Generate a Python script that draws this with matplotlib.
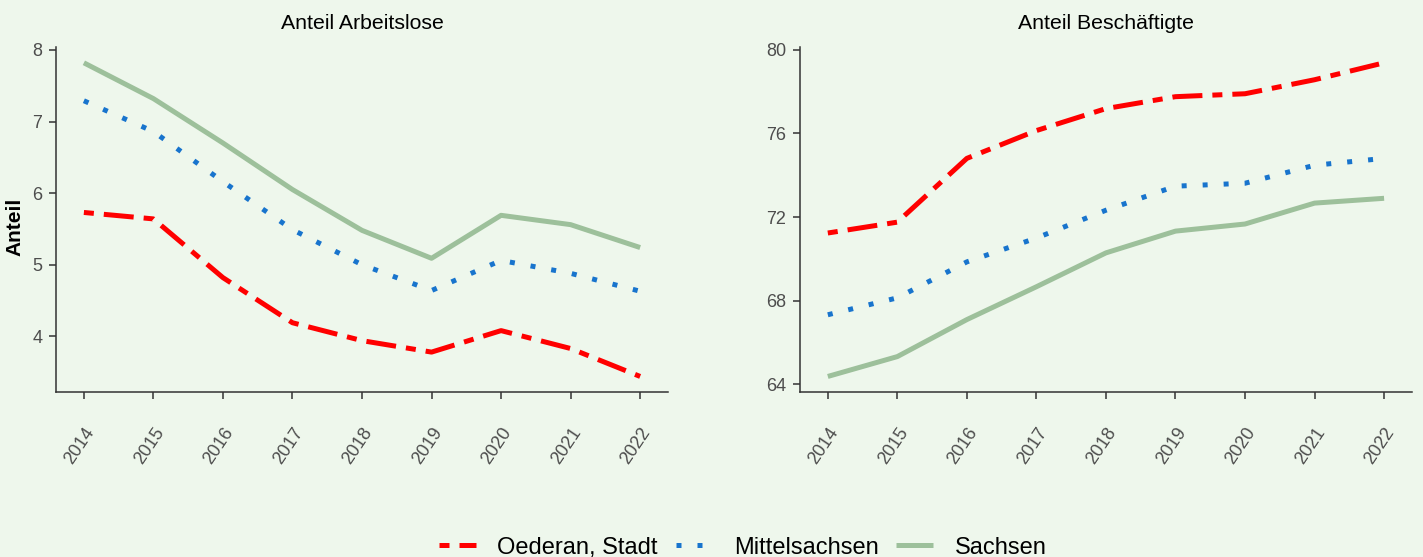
import numpy as np
import matplotlib
matplotlib.use("Agg")
import matplotlib.pyplot as plt
import matplotlib.transforms as mtransforms
from matplotlib.lines import Line2D

plt.rcParams['font.family'] = ['Liberation Sans', 'DejaVu Sans']

# data
years = [2014, 2015, 2016, 2017, 2018, 2019, 2020, 2021, 2022]
series = ["Oederan, Stadt", "Mittelsachsen", "Sachsen"]

arbeitslose_oederan = [5.73, 5.64, 4.82, 4.19, 3.94, 3.78, 4.08, 3.83, 3.44]
arbeitslose_mittel = [7.29, 6.86, 6.16, 5.49, 5.00, 4.64, 5.06, 4.88, 4.63]
arbeitslose_sachsen = [7.82, 7.32, 6.70, 6.05, 5.48, 5.09, 5.69, 5.56, 5.24]

besch_oederan = [71.24, 71.76, 74.81, 76.14, 77.19, 77.76, 77.90, 78.57, 79.38]
besch_mittel = [67.33, 68.14, 69.86, 71.00, 72.33, 73.48, 73.62, 74.48, 74.81]
besch_sachsen = [64.38, 65.33, 67.10, 68.67, 70.29, 71.33, 71.67, 72.67, 72.90]

bg = "#EEF7EC"
colors = ["#FF0000", "#1874CD", "#9DC09B"]
dashes = [(2, 2, 6, 2), (1, 3.2), None]   # twodash, dotted, solid
lw = 3.6

fig = plt.figure(figsize=(14.23, 5.57), dpi=100, facecolor=bg)
ax1 = fig.add_axes([0.0394, 0.296, 0.430, 0.6194])
ax2 = fig.add_axes([0.5622, 0.296, 0.430, 0.6194])

panels = [
    (ax1, "Anteil Arbeitslose", [arbeitslose_oederan, arbeitslose_mittel, arbeitslose_sachsen], [4, 5, 6, 7, 8]),
    (ax2, "Anteil Beschäftigte", [besch_oederan, besch_mittel, besch_sachsen], [64, 68, 72, 76, 80]),
]

shift = mtransforms.ScaledTranslation(-4 / 72, 0, fig.dpi_scale_trans)

for ax, title, vals, yt in panels:
    ax.set_facecolor(bg)
    for v, c, d in zip(vals, colors, dashes):
        line, = ax.plot(years, v, color=c, lw=lw, solid_capstyle="butt")
        if d is not None:
            line.set_dashes(d)
            line.set_dash_capstyle("butt")
    allv = np.concatenate([np.array(v) for v in vals])
    lo, hi = allv.min(), allv.max()
    pad = (hi - lo) * 0.05
    ax.set_ylim(lo - pad, hi + pad)
    ax.set_xlim(2013.6, 2022.4)
    ax.set_xticks(years)
    ax.set_xticklabels([str(y) for y in years], rotation=56, ha="right", va="top",
                       rotation_mode="anchor", color="#4D4D4D", fontsize=13)
    for lab in ax.get_xticklabels():
        lab.set_transform(lab.get_transform() + shift)
    ax.set_yticks(yt)
    ax.set_yticklabels([str(t) for t in yt], color="#4D4D4D", fontsize=13)
    ax.tick_params(axis="both", length=5, width=1.1, color="#333333")
    ax.tick_params(axis="x", pad=18.5)
    ax.tick_params(axis="y", pad=5)
    ax.set_title(title, fontsize=15.3, pad=13)
    for s in ["top", "right"]:
        ax.spines[s].set_visible(False)
    for s in ["left", "bottom"]:
        ax.spines[s].set_color("#333333")
        ax.spines[s].set_linewidth(1.1)

ax1.set_ylabel("Anteil", fontsize=15, fontweight="bold")
ax1.yaxis.set_label_coords(-0.052, 0.48)

handles = []
for c, d in zip(colors, dashes):
    h = Line2D([0], [0], color=c, lw=lw, solid_capstyle="butt")
    if d is not None:
        h.set_dashes(d)
        h.set_dash_capstyle("butt")
    handles.append(h)
fig.legend(handles, series, loc="center", bbox_to_anchor=(0.522, 0.017),
           ncol=3, frameon=False, fontsize=17, handlelength=1.57,
           columnspacing=0.75, handletextpad=0.9, borderpad=0, borderaxespad=0)

fig.savefig("out.png", dpi=100, facecolor=bg)
